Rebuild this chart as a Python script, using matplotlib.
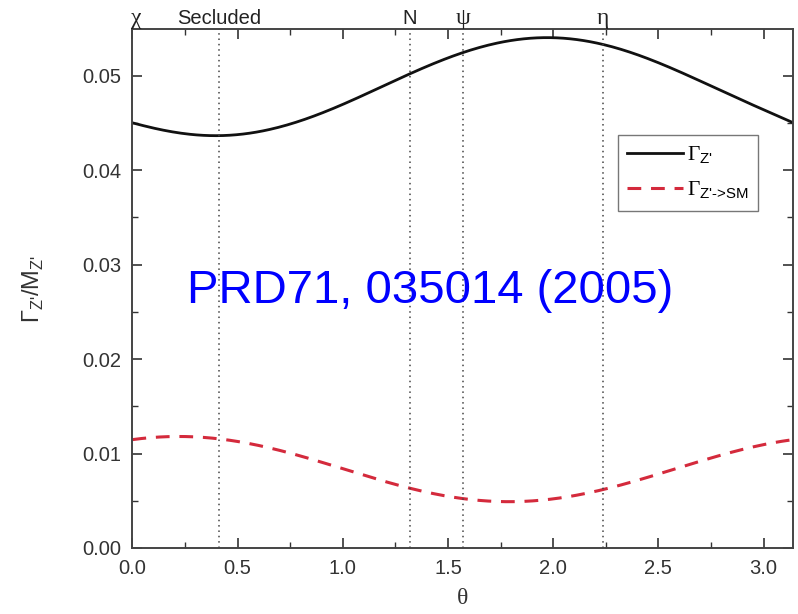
import numpy as np
import matplotlib.pyplot as plt
from matplotlib.ticker import MultipleLocator

plt.rcParams['font.family'] = ['Liberation Sans', 'DejaVu Sans']
plt.rcParams['mathtext.fontset'] = 'custom'
plt.rcParams['mathtext.rm'] = 'Liberation Sans'
plt.rcParams['mathtext.cal'] = 'Liberation Serif'

# widths
theta = [0.0, 0.2, 0.4, 0.6, 0.8, 1.0, 1.2, 1.4, 1.6, 1.8, 2.0, 2.2, 2.4, 2.6, 2.8, 3.0, np.pi]
gamma_tot = [0.0450, 0.04400, 0.04365, 0.04406, 0.04522, 0.04695, 0.04898, 0.05098,
             0.05265, 0.05371, 0.05400, 0.05348, 0.05222, 0.05042, 0.04838, 0.04640, 0.0450]
gamma_sm = [0.01147, 0.01180, 0.01158, 0.01085, 0.00973, 0.00839, 0.00704, 0.00590,
            0.00515, 0.00490, 0.00520, 0.00599, 0.00716, 0.00851, 0.00984, 0.01094, 0.01147]

# E6 model angles
model_names = ["\u03c7", "Secluded", "N", "\u03c8", "\u03b7"]
model_theta = [0.0, 0.411, 1.318, 1.571, 2.237]

fig = plt.figure(figsize=(7.98, 6.14), dpi=100)
ax = fig.add_axes([0.1660, 0.1075, 0.8281, 0.8448])

# smooth curves through the read points
tt = np.linspace(0, np.pi, 300)
def smooth(x, y):
    c = np.polyfit(x, y, 8)
    return np.polyval(c, tt)

ax.plot(tt, smooth(theta, gamma_tot), color="#111111", lw=2.0,
        label=r"$\mathcal{\Gamma}_{\text{Z'}}$")
ax.plot(tt, smooth(theta, gamma_sm), color="#d42a3c", lw=2.2, ls=(0, (4.5, 3.2)),
        label=r"$\mathcal{\Gamma}_{\text{Z'->SM}}$")

for th in model_theta[1:]:
    ax.axvline(th, color="#444444", lw=1.1, ls=(0, (1, 2.5)))

for name, th in zip(model_names, model_theta):
    if name in ("Secluded", "N"):
        fam, fs = ["Liberation Sans"], 14.5
    else:
        fam, fs = ["Liberation Serif"], 17
    ax.text(th + (0.02 if th == 0 else 0.0), 1.0096, name, transform=ax.get_xaxis_transform(),
            ha="center", va="baseline", fontsize=fs, color="#222222", family=fam)

ax.text(0.45, 0.495, "PRD71, 035014 (2005)", transform=ax.transAxes, color="blue",
        fontsize=34, ha="center", va="center")

ax.set_xlim(0, np.pi)
ax.set_ylim(0, 0.0549)
ax.xaxis.set_major_locator(MultipleLocator(0.5))
ax.xaxis.set_minor_locator(MultipleLocator(0.25))
ax.yaxis.set_major_locator(MultipleLocator(0.01))
ax.yaxis.set_minor_locator(MultipleLocator(0.005))
ax.xaxis.set_major_formatter(plt.FormatStrFormatter("%.1f"))
ax.yaxis.set_major_formatter(plt.FormatStrFormatter("%.2f"))
ax.tick_params(which="both", direction="in", top=True, right=True, colors="#333333",
               labelcolor="#333333", labelsize=14.5)
ax.tick_params(which="major", length=7, width=1.2, pad=8)
ax.tick_params(which="minor", length=4, width=1.0)
for s in ax.spines.values():
    s.set_color("#444444")
    s.set_linewidth(1.4)

ax.set_xlabel("\u03b8", fontsize=17, color="#333333", labelpad=7, family=["Liberation Serif"])
ax.set_ylabel(r"$\Gamma_{\text{Z'}}/\text{M}_{\text{Z'}}$", fontsize=17, color="#333333", labelpad=26)

leg = ax.legend(loc="upper right", bbox_to_anchor=(0.9466, 0.796), fontsize=15.5, frameon=True,
                fancybox=False, edgecolor="#555555", handlelength=2.6, borderpad=0.45,
                labelspacing=0.6, handletextpad=0.15, borderaxespad=0.0)
leg.get_frame().set_linewidth(1.0)

fig.savefig("out.png", dpi=100)
